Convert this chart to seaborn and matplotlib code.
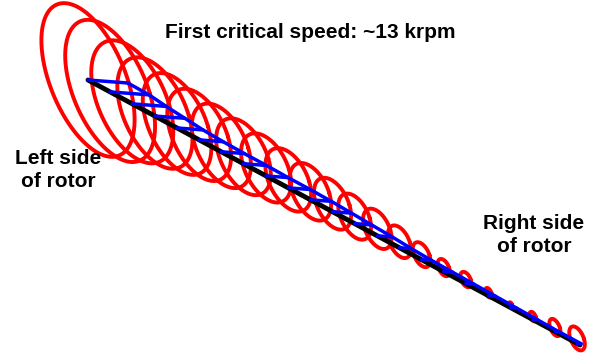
import numpy as np
import pandas as pd
import matplotlib
matplotlib.use("Agg")
import matplotlib.pyplot as plt
import seaborn as sns

# Axial stations along the rotor (fraction of bearing span, left -> right)
station_pos = [0.000, 0.045, 0.090, 0.136, 0.181, 0.226, 0.271, 0.316,
               0.362, 0.407, 0.452, 0.497, 0.542, 0.588, 0.633, 0.678,
               0.723, 0.768, 0.814, 0.859, 0.904, 0.949, 0.994]
# Orbit semi-axes at each station (vertical / horizontal whirl amplitude)
orbit_major = [80, 74, 64, 58, 53, 48, 44, 40, 36, 33, 30, 27,
               24, 21, 17, 13, 9, 8, 5, 2.5, 5, 9, 12.5]
orbit_minor = [41, 40, 37, 34, 31, 29, 27, 25, 23, 21, 19, 17,
               15, 13, 10.5, 8, 5.5, 5, 3, 1.5, 3, 5, 7]
# Mean vertical offset of each orbit centre from the bearing line
orbit_lift = [0, 1, 2, 3, 4, 5, 6, 7, 8, 8, 8, 8,
              7, 7, 6, 5, 4, 4, 3, 3, 3, 4, 5]
# Instantaneous deflection of the shaft at each station
deflection = [40, 39, 34, 30, 26, 24, 23, 23, 22, 22, 21, 19,
              17, 15, 12, 10, 9, 8, 7, 6, 5, 4, 4]

title = "First critical speed: ~13 krpm"
left_label = "Left side\nof rotor"
right_label = "Right side\nof rotor"

# Oblique projection of the rotor frame onto the page
axis_start = np.array([88.0, 80.0])
axis_end = np.array([580.0, 345.0])
u_dir = np.array([0.997, 0.075])     # horizontal whirl direction
v_dir = np.array([-0.28, -0.96])     # vertical whirl direction

sns.set_theme(style="white")
plt.rcParams["font.family"] = ["Liberation Sans", "DejaVu Sans"]

fig = plt.figure(figsize=(5.91, 3.54), dpi=100)
ax = fig.add_axes([0, 0, 1, 1])

t = np.linspace(0, 2 * np.pi, 240)
rows = []
for k, (s, a, b, h) in enumerate(zip(station_pos, orbit_minor, orbit_major, orbit_lift)):
    c = axis_start + s * (axis_end - axis_start) + np.array([0.0, -h])
    pts = c[None, :] + np.outer(a * np.cos(t), u_dir) + np.outer(b * np.sin(t), v_dir)
    for p in pts:
        rows.append({"station": k, "x": p[0], "y": p[1]})
orbits = pd.DataFrame(rows)
sns.lineplot(data=orbits, x="x", y="y", units="station", estimator=None,
             sort=False, color="#ff0000", linewidth=2.8, ax=ax)

# Undeflected rotor centreline
centre = pd.DataFrame({"x": [axis_start[0], axis_end[0]],
                       "y": [axis_start[1], axis_end[1]]})
sns.lineplot(data=centre, x="x", y="y", sort=False, color="black",
             linewidth=3.5, ax=ax)

# Deflected shape: spokes from the centreline and the shaft line
seg = []
tips = []
for k, (s, d) in enumerate(zip(station_pos, deflection)):
    c = axis_start + s * (axis_end - axis_start)
    tip = c + d * u_dir
    tips.append(tip)
    seg.append({"seg": k, "x": c[0], "y": c[1]})
    seg.append({"seg": k, "x": tip[0], "y": tip[1]})
for tip in tips:
    seg.append({"seg": 100, "x": tip[0], "y": tip[1]})
blue = pd.DataFrame(seg)
sns.lineplot(data=blue, x="x", y="y", units="seg", estimator=None,
             sort=False, color="#0000ff", linewidth=2.5, ax=ax)

txt = dict(ha="center", va="center", fontsize=15, fontweight="bold",
           color="black", linespacing=1.25)
ax.text(310, 33, title, **txt)
ax.text(58, 170, left_label, **txt)
ax.text(534, 235, right_label, **txt)

ax.set_xlim(0, 591)
ax.set_ylim(354, 0)
ax.set_axis_off()
if ax.get_legend() is not None:
    ax.get_legend().remove()
fig.savefig("out.png", dpi=100, facecolor="white")
